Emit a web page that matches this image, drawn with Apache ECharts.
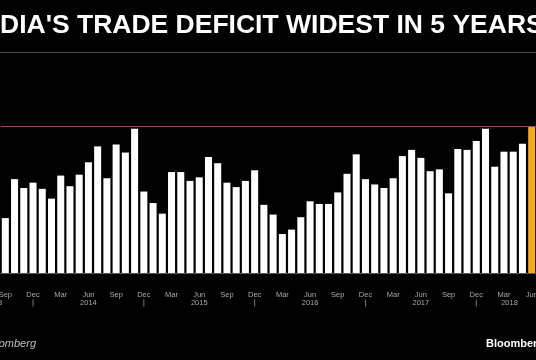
<!DOCTYPE html>
<html>
<head>
<meta charset="utf-8">
<script src="https://cdn.jsdelivr.net/npm/echarts@6/dist/echarts.min.js"></script>
<style>
html,body{margin:0;padding:0;background:#000;}
#c{width:536px;height:360px;}
</style>
</head>
<body>
<div id="c"></div>
<script>
const titleText = "INDIA'S TRADE DEFICIT WIDEST IN 5 YEARS";
const sourceText = 'Source: Bloomberg';
const logoText = 'Bloomberg';

const categories = [
  'Sep 2013','Oct 2013','Nov 2013','Dec 2013',
  'Jan 2014','Feb 2014','Mar 2014','Apr 2014','May 2014','Jun 2014','Jul 2014','Aug 2014','Sep 2014','Oct 2014','Nov 2014','Dec 2014',
  'Jan 2015','Feb 2015','Mar 2015','Apr 2015','May 2015','Jun 2015','Jul 2015','Aug 2015','Sep 2015','Oct 2015','Nov 2015','Dec 2015',
  'Jan 2016','Feb 2016','Mar 2016','Apr 2016','May 2016','Jun 2016','Jul 2016','Aug 2016','Sep 2016','Oct 2016','Nov 2016','Dec 2016',
  'Jan 2017','Feb 2017','Mar 2017','Apr 2017','May 2017','Jun 2017','Jul 2017','Aug 2017','Sep 2017','Oct 2017','Nov 2017','Dec 2017',
  'Jan 2018','Feb 2018','Mar 2018','Apr 2018','May 2018','Jun 2018'
];

// Trade deficit, USD billions
const deficit = [
  6.2, 10.6, 9.6, 10.2,
  9.5, 8.4, 11.0, 9.8, 11.1, 12.5, 14.3, 10.7, 14.5, 13.6, 16.3, 9.2,
  7.9, 6.7, 11.4, 11.4, 10.4, 10.8, 13.1, 12.4, 10.2, 9.7, 10.4, 11.6,
  7.7, 6.6, 4.4, 4.9, 6.3, 8.1, 7.8, 7.8, 9.1, 11.2, 13.4, 10.6,
  10.0, 9.6, 10.7, 13.2, 13.9, 13.0, 11.5, 11.7, 9.0, 14.0, 13.9, 14.9,
  16.3, 12.0, 13.7, 13.7, 14.6, 16.6
];

const latestValue = 16.6;
const yearLabelIndex = [0, 9, 21, 33, 45, 54];
const yearLabelText = ['2013', '2014', '2015', '2016', '2017', '2018'];
const yearLabelStyle = ['y0', 'y', 'y', 'y', 'y', 'y18'];

const chart = echarts.init(document.getElementById('c'), null, {renderer: 'canvas'});

const barData = deficit.map((v, i) => i === deficit.length - 1
  ? {value: v, itemStyle: {color: '#f5a623'}}
  : v);

const labelColor = '#a8a8a8';

chart.setOption({
  backgroundColor: '#000',
  animation: false,
  grid: {left: 0.7, width: 535.6, top: 126, bottom: 87, containLabel: false, outerBoundsMode: 'none'},
  xAxis: {
    type: 'category',
    data: categories,
    offset: 16,
    axisLine: {show: true, lineStyle: {color: '#5a5a5a', width: 1}},
    axisTick: {show: true, interval: 0, inside: true, length: 2, alignWithLabel: true, lineStyle: {color: '#5a5a5a'}},
    axisLabel: {
      interval: 0,
      margin: 2,
      hideOverlap: false,
      showMinLabel: true,
      showMaxLabel: true,
      color: labelColor,
      fontFamily: 'Liberation Sans',
      fontSize: 7.5,
      formatter: function (value, index) {
        if (index % 3 !== 0) return '';
        const month = value.split(' ')[0];
        let s = '{m|' + month + '}';
        const yi = yearLabelIndex.indexOf(index);
        if (yi >= 0) {
          s += '\n{' + yearLabelStyle[yi] + '|' + yearLabelText[yi] + '}';
        } else if (month === 'Dec') {
          s += '\n{tk| }';
        }
        return s;
      },
      rich: {
        m: {color: labelColor, fontSize: 7.5, lineHeight: 8, fontFamily: 'Liberation Sans'},
        y: {color: labelColor, fontSize: 7.5, lineHeight: 8, fontFamily: 'Liberation Sans'},
        y0: {color: labelColor, fontSize: 7.5, lineHeight: 8, fontFamily: 'Liberation Sans', padding: [0, 23, 0, 0]},
        y18: {color: labelColor, fontSize: 7.5, lineHeight: 8, fontFamily: 'Liberation Sans', padding: [0, 0, 0, 11]},
        tk: {width: 1, height: 7, fontSize: 1, lineHeight: 8, backgroundColor: '#777'}
      }
    }
  },
  yAxis: {
    type: 'value',
    min: 0,
    max: latestValue,
    show: false,
    splitLine: {show: false}
  },
  series: [{
    type: 'bar',
    data: barData,
    barCategoryGap: '24%',
    itemStyle: {color: '#ffffff'},
    silent: true,
    markLine: {
      silent: true,
      symbol: 'none',
      label: {show: false},
      lineStyle: {color: '#9c4557', width: 1, type: 'solid'},
      data: [{yAxis: latestValue}]
    }
  }],
  graphic: [
    {
      type: 'text',
      x: -26.5, y: 25.5,
      style: {
        text: titleText,
        fill: '#ffffff',
        font: 'bold 26.5px "Liberation Sans", Arial, sans-serif',
        textAlign: 'left',
        textVerticalAlign: 'middle'
      }
    },
    {
      type: 'line',
      shape: {x1: 0, y1: 52.5, x2: 536, y2: 52.5},
      style: {stroke: '#4a4a4a', lineWidth: 1}
    },
    {
      type: 'text',
      x: 36, y: 344,
      style: {
        text: sourceText,
        fill: '#bdbdbd',
        font: 'italic 11px "Liberation Sans", Arial, sans-serif',
        textAlign: 'right',
        textVerticalAlign: 'middle'
      }
    },
    {
      type: 'text',
      x: 486, y: 343.5,
      style: {
        text: logoText,
        fill: '#ffffff',
        font: 'bold 11px "Liberation Sans", Arial, sans-serif',
        textAlign: 'left',
        textVerticalAlign: 'middle'
      }
    }
  ]
});
</script>
</body>
</html>
